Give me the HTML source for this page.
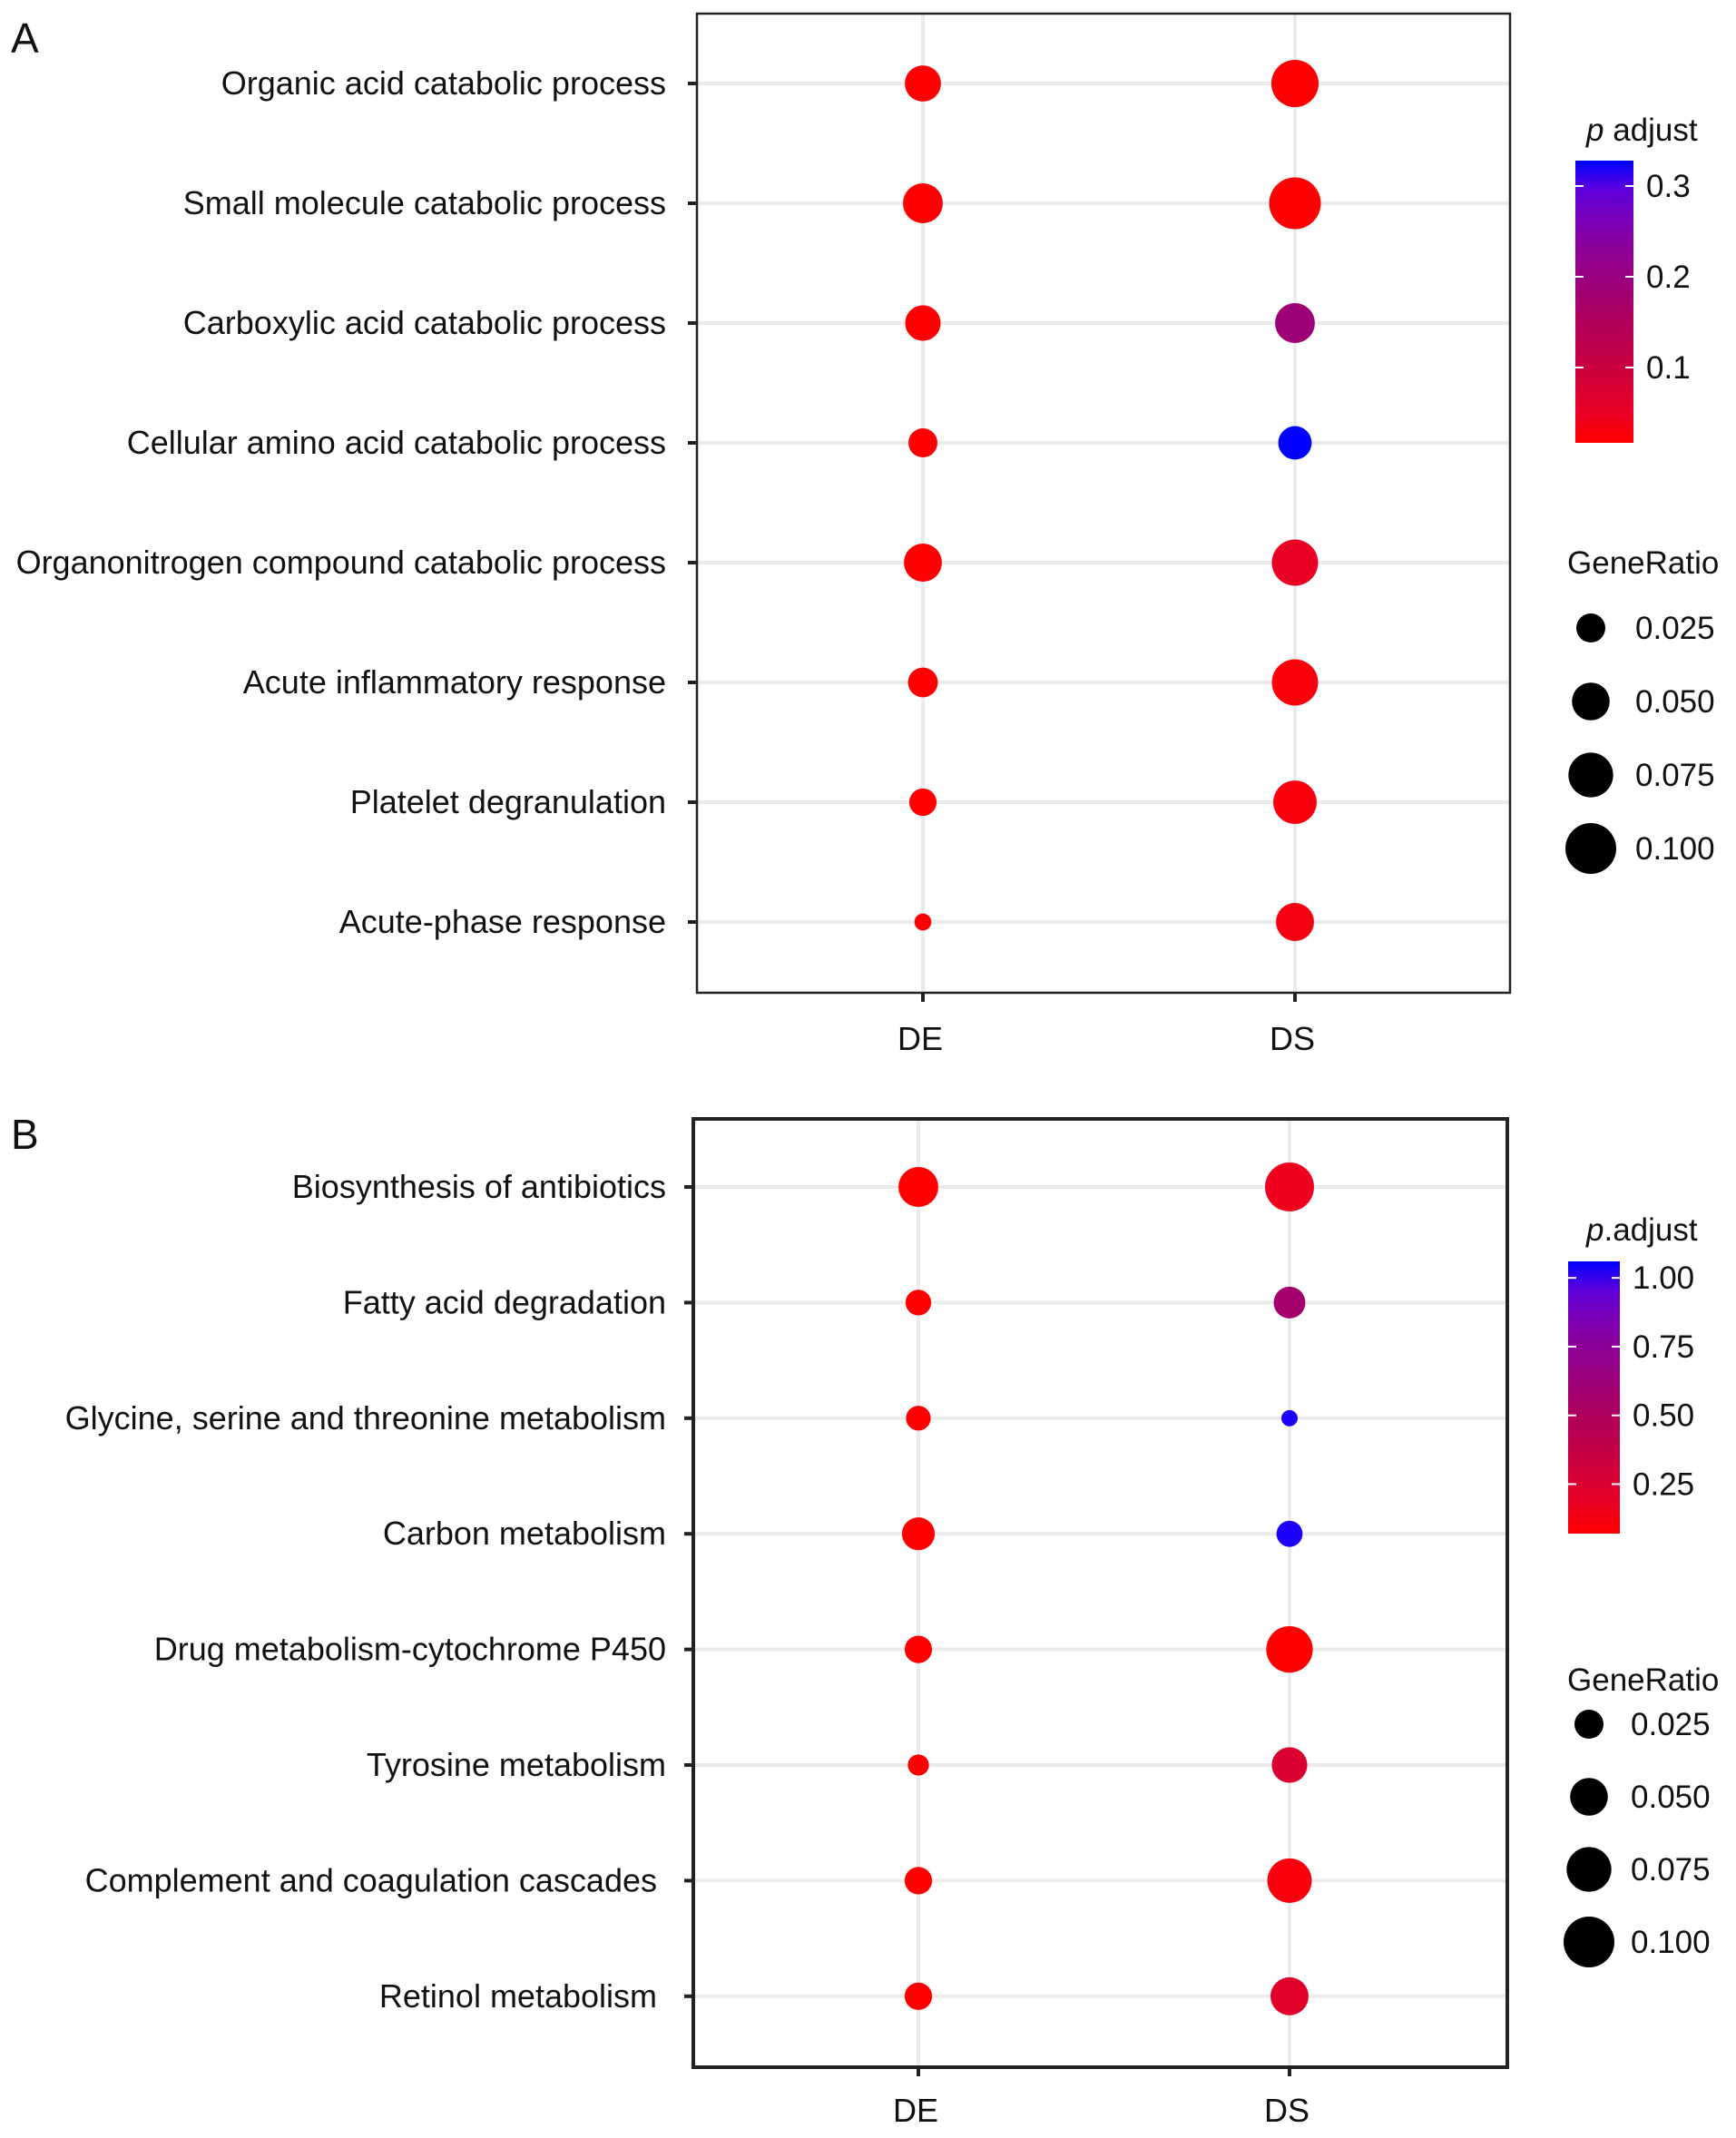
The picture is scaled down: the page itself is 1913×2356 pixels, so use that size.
<!DOCTYPE html>
<html><head><meta charset="utf-8">
<style>
html,body{margin:0;padding:0;background:#fff;}
svg{display:block;font-family:"Liberation Sans",Arial,sans-serif;}
</style></head>
<body>
<svg id="fig" width="1913" height="2356" viewBox="0 0 1913 2356" xmlns="http://www.w3.org/2000/svg">
<rect x="0" y="0" width="1913" height="2356" fill="#fff"/>
<defs>
<linearGradient id="gradA" x1="0" y1="1" x2="0" y2="0"></linearGradient>
<linearGradient id="gradB" x1="0" y1="1" x2="0" y2="0"></linearGradient>
</defs>
<g id="root"></g>
</svg>
<script>
// ---------- DATA ----------
const groups = ["DE", "DS"];
const termsA = ["Organic acid catabolic process","Small molecule catabolic process","Carboxylic acid catabolic process","Cellular amino acid catabolic process","Organonitrogen compound catabolic process","Acute inflammatory response","Platelet degranulation","Acute-phase response"];
const ratioA_DE = [0.045,0.057,0.043,0.025,0.051,0.027,0.021,0.001];
const ratioA_DS = [0.085,0.104,0.057,0.037,0.081,0.081,0.070,0.051];
const padjA_DE = [0.018,0.018,0.018,0.018,0.018,0.018,0.018,0.02];
const padjA_DS = [0.018,0.018,0.19,0.328,0.05,0.025,0.025,0.03];
const colorTicksA = [0.1,0.2,0.3];
const colorTickLabelsA = ["0.1","0.2","0.3"];
const colorDomainA = [0.017,0.328];

const termsB = ["Biosynthesis of antibiotics","Fatty acid degradation","Glycine, serine and threonine metabolism","Carbon metabolism","Drug metabolism-cytochrome P450","Tyrosine metabolism","Complement and coagulation cascades ","Retinol metabolism "];
const ratioB_DE = [0.057,0.017,0.015,0.035,0.021,0.008,0.021,0.021];
const ratioB_DS = [0.092,0.032,0.0,0.018,0.082,0.043,0.074,0.051];
const padjB_DE = [0.07,0.07,0.07,0.07,0.07,0.07,0.07,0.07];
const padjB_DS = [0.15,0.58,1.05,1.05,0.07,0.25,0.10,0.22];
const colorTicksB = [0.25,0.5,0.75,1.0];
const colorTickLabelsB = ["0.25","0.50","0.75","1.00"];
const colorDomainB = [0.07,1.06];

const sizeLegendValues = [0.025,0.050,0.075,0.100];
const sizeLegendLabels = ["0.025","0.050","0.075","0.100"];

// ---------- helpers ----------
const NS = "http://www.w3.org/2000/svg";
const root = document.getElementById('root');
function mk(tag, attrs, parent){ const e=document.createElementNS(NS,tag); for(const k in attrs) e.setAttribute(k,attrs[k]); (parent||root).appendChild(e); return e; }
function rOf(v){ return Math.sqrt(Math.max(40, 80 + 7040*v)); }
function srgb2lin(c){c/=255;return c<=0.04045?c/12.92:Math.pow((c+0.055)/1.055,2.4);}
function lin2srgb(c){c=c<=0.0031308?12.92*c:1.055*Math.pow(c,1/2.4)-0.055;return Math.round(Math.max(0,Math.min(1,c))*255);}
function toLab(r,g,b){r=srgb2lin(r);g=srgb2lin(g);b=srgb2lin(b);
 let X=(0.4124*r+0.3576*g+0.1805*b)/0.95047,Y=(0.2126*r+0.7152*g+0.0722*b),Z=(0.0193*r+0.1192*g+0.9505*b)/1.08883;
 const f=t=>t>0.008856?Math.cbrt(t):7.787*t+16/116;X=f(X);Y=f(Y);Z=f(Z);return [116*Y-16,500*(X-Y),200*(Y-Z)];}
function fromLab(L,a,b){let Y=(L+16)/116,X=a/500+Y,Z=Y-b/200;const fi=t=>t*t*t>0.008856?t*t*t:(t-16/116)/7.787;
 X=fi(X)*0.95047;Y=fi(Y);Z=fi(Z)*1.08883;
 const r=3.2406*X-1.5372*Y-0.4986*Z,g=-0.9689*X+1.8758*Y+0.0415*Z,bb=0.0557*X-0.2040*Y+1.0570*Z;
 return "rgb("+lin2srgb(r)+","+lin2srgb(g)+","+lin2srgb(bb)+")";}
const labR=toLab(255,0,0), labB=toLab(0,0,255);
function colorAt(t){t=Math.max(0,Math.min(1,t));
 const L=labR[0]+(labB[0]-labR[0])*t - 12*Math.sin(Math.PI*t);
 return fromLab(L,labR[1]+(labB[1]-labR[1])*t,labR[2]+(labB[2]-labR[2])*t);}

function panel(cfg){
  const g = mk('g',{});
  
  
  const yOf = i => cfg.rowTop + i*cfg.rowStep;
  const xOf = gi => cfg.groupX[gi];
  cfg.terms.forEach((t,i)=>{
    const l=mk('line',{x1:cfg.box[0],x2:cfg.box[2],y1:yOf(i),y2:yOf(i),stroke:'#ebebeb','stroke-width':4},g);
    
    
  });
  groups.forEach((gr,gi)=>{
    const l=mk('line',{x1:xOf(gi),x2:xOf(gi),y1:cfg.box[1],y2:cfg.box[3],stroke:'#ebebeb','stroke-width':4},g);
    
    
  });
  const b=mk('rect',{x:cfg.box[0],y:cfg.box[1],width:cfg.box[2]-cfg.box[0],height:cfg.box[3]-cfg.box[1],fill:'none',stroke:'#222','stroke-width':cfg.bw},g);
  
  
  cfg.terms.forEach((t,i)=>{
    const tx=mk('text',{x:cfg.labelX,y:yOf(i)+12,'text-anchor':'end','font-size':36,fill:'#111'},g);
    tx.textContent=t.trim();
    if(t.endsWith(' ')) tx.setAttribute('x', cfg.labelX-10);
    
    
    const tk=mk('line',{x1:cfg.box[0]-10,x2:cfg.box[0],y1:yOf(i),y2:yOf(i),stroke:'#222','stroke-width':4},g);
    
    
  });
  groups.forEach((gr,gi)=>{
    const tk=mk('line',{x1:xOf(gi),x2:xOf(gi),y1:cfg.box[3],y2:cfg.box[3]+10,stroke:'#222','stroke-width':4},g);
    
    
    const tx=mk('text',{x:xOf(gi)-3,y:cfg.xLabelY,'text-anchor':'middle','font-size':36,fill:'#111'},g);
    tx.textContent=gr;
    
    
  });
  const cd=cfg.colorDomain;
  [ [cfg.ratioDE,cfg.padjDE], [cfg.ratioDS,cfg.padjDS] ].forEach((s,gi)=>{
    s[0].forEach((v,i)=>{
      const c=mk('circle',{cx:xOf(gi),cy:yOf(i),r:rOf(v),fill:colorAt((s[1][i]-cd[0])/(cd[1]-cd[0]))},g);
      
      
    });
  });
  const L=mk('text',{x:12,y:cfg.letterY,'font-size':46,fill:'#111'},g);
  L.textContent=cfg.letter;
  
  
  const cb=cfg.cbar;
  const grad=document.getElementById(cfg.gradId);
  for(let k=0;k<=10;k++){mk('stop',{offset:(k*10)+'%','stop-color':colorAt(k/10)},grad);}
  const ct=mk('text',{x:cfg.cTitle[0],y:cfg.cTitle[1],'font-size':35,fill:'#111'},g);
  ct.innerHTML='<tspan font-style="italic">p</tspan>'+cfg.cTitleRest;
  
  
  const cr=mk('rect',{x:cb[0],y:cb[1],width:cb[2],height:cb[3],fill:'url(#'+cfg.gradId+')'},g);
  
  
  const cyOf = v => cb[1]+cb[3] - (v-cd[0])/(cd[1]-cd[0])*cb[3];
  cfg.cTicks.forEach((v,k)=>{
    const y=cyOf(v);
    [[cb[0],cb[0]+9],[cb[0]+cb[2]-9,cb[0]+cb[2]]].forEach(p=>{
      const l=mk('line',{x1:p[0],x2:p[1],y1:y,y2:y,stroke:'#fff','stroke-width':2},g);
      
      
    });
    const t=mk('text',{x:cb[0]+cb[2]+14,y:y+12,'font-size':35,fill:'#111'},g);
    t.textContent=cfg.cTickLabels[k];
    
    
  });
  const st=mk('text',{x:cfg.sTitle[0],y:cfg.sTitle[1],'font-size':35,fill:'#111'},g);
  st.textContent='GeneRatio';
  
  
  sizeLegendValues.forEach((v,k)=>{
    const y=cfg.sTop+k*cfg.sStep;
    const c=mk('circle',{cx:cfg.sX,cy:y,r:rOf(v),fill:'#000'},g);
    
    
    const t=mk('text',{x:cfg.sTextX,y:y+12,'font-size':35,fill:'#111'},g);
    t.textContent=sizeLegendLabels[k];
    
    
  });
}

panel({name:'panel-a',letter:'A',letterY:58,terms:termsA,box:[768,15,1664,1094],bw:2.5,rowTop:92,rowStep:132,
  groupX:[1017,1427],labelX:734,xLabelY:1157,ratioDE:ratioA_DE,ratioDS:ratioA_DS,padjDE:padjA_DE,padjDS:padjA_DS,
  colorDomain:colorDomainA,gradId:'gradA',cbar:[1736,177,64,311],cTitle:[1748,155],cTitleRest:' adjust',
  cTicks:colorTicksA,cTickLabels:colorTickLabelsA,sTitle:[1727,632],sX:1753,sTextX:1802,sTop:692,sStep:81});

panel({name:'panel-b',letter:'B',letterY:1266,terms:termsB,box:[764,1233,1661,2278],bw:4,rowTop:1308,rowStep:127.4,
  groupX:[1012,1421],labelX:734,xLabelY:2338,ratioDE:ratioB_DE,ratioDS:ratioB_DS,padjDE:padjB_DE,padjDS:padjB_DS,
  colorDomain:colorDomainB,gradId:'gradB',cbar:[1728,1390,57,300],cTitle:[1748,1367],cTitleRest:'.adjust',
  cTicks:colorTicksB,cTickLabels:colorTickLabelsB,sTitle:[1727,1863],sX:1751,sTextX:1797,sTop:1900,sStep:80});
</script>
</body></html>
